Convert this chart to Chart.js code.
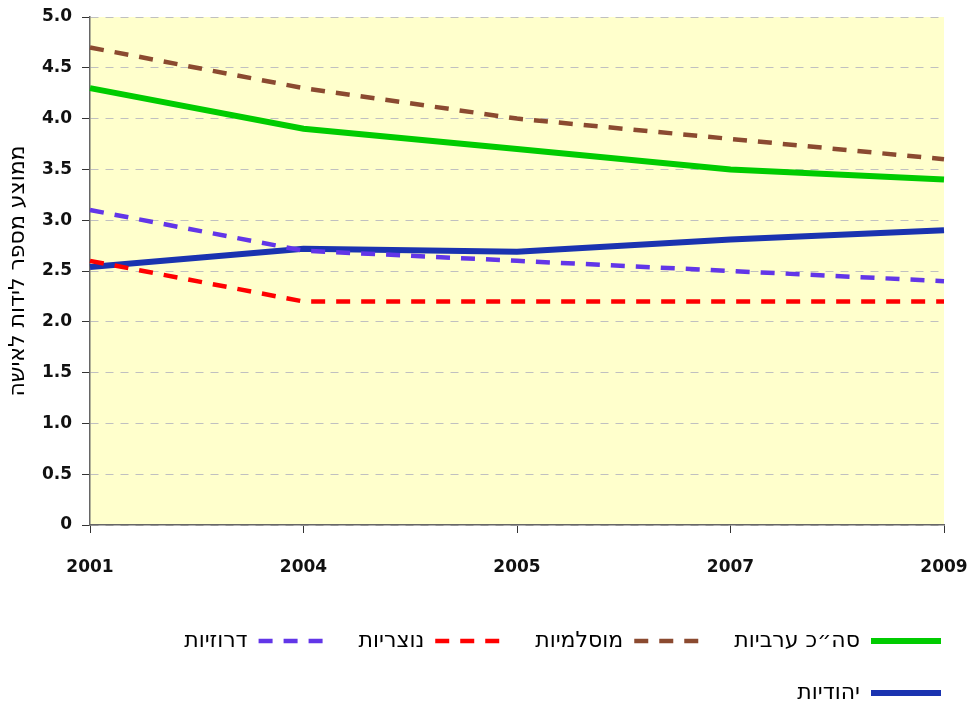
<!DOCTYPE html>
<html lang="he">
<head>
<meta charset="utf-8">
<script src="https://cdn.jsdelivr.net/npm/chart.js@4/dist/chart.umd.min.js"></script>
<style>
  body { margin: 0; background: #fff; }
  canvas { display: block; }
</style>
</head>
<body>
<canvas id="plot" width="980" height="706"></canvas>
<script>
// data
const years = ['2001', '2004', '2005', '2007', '2009']
const totalArab = [4.3, 3.9, 3.7, 3.5, 3.4]
const muslim = [4.7, 4.3, 4.0, 3.8, 3.6]
const christian = [2.6, 2.2, 2.2, 2.2, 2.2]
const druze = [3.1, 2.7, 2.6, 2.5, 2.4]
const jewish = [2.54, 2.72, 2.69, 2.81, 2.90]
const yTickLabels = ['0', '0.5', '1.0', '1.5', '2.0', '2.5', '3.0', '3.5', '4.0', '4.5', '5.0']

const fontFamily = '"DejaVu Sans", sans-serif'

// yellow plot background
const plotBackground = {
    id: 'plotBackground',
    beforeDraw(chart) {
        const { ctx, chartArea } = chart
        ctx.save()
        ctx.fillStyle = '#FFFFCC'
        ctx.fillRect(chartArea.left, chartArea.top, chartArea.right - chartArea.left, chartArea.bottom - chartArea.top)
        ctx.restore()
    }
}

function makeSet(label, data, color, width, dash) {
    return {
        label: label,
        data: data,
        borderColor: color,
        backgroundColor: color,
        borderWidth: width,
        borderDash: dash,
        pointRadius: 0,
        pointHoverRadius: 0,
        pointStyle: 'line',
        tension: 0,
        fill: false,
    }
}

const ctx = document.getElementById('plot').getContext('2d')
const chart = new Chart(ctx, {
    type: 'line',
    data: {
        labels: years,
        datasets: [
            makeSet('סה״כ ערביות', totalArab, '#00CC00', 6, []),
            makeSet('מוסלמיות', muslim, '#8B4A30', 4.5, [14, 11]),
            makeSet('נוצריות', christian, '#FF0000', 4.5, [14, 11]),
            makeSet('דרוזיות', druze, '#6236E8', 4.5, [14, 11]),
            makeSet('יהודיות', jewish, '#1A33B0', 6, []),
        ],
    },
    options: {
        responsive: false,
        animation: false,
        layout: { padding: { top: 0, right: 9, left: 0, bottom: -8 } },
        plugins: {
            tooltip: { enabled: false },
            legend: {
                position: 'bottom',
                align: 'start',
                rtl: true,
                textDirection: 'rtl',
                labels: {
                    usePointStyle: true,
                    pointStyleWidth: 70,
                    boxWidth: 70,
                    padding: 30,
                    color: '#000',
                    font: { family: fontFamily, size: 22 },
                    // point style labels lose the dataset dash, put it back
                    generateLabels: function (chart) {
                        const items = Chart.defaults.plugins.legend.labels.generateLabels(chart)
                        items.forEach(item => {
                            const ds = chart.data.datasets[item.datasetIndex]
                            item.lineDash = ds.borderDash
                            item.lineWidth = ds.borderWidth
                            item.strokeStyle = ds.borderColor
                            item.pointStyle = 'line'
                        })
                        return items
                    },
                },
            },
        },
        scales: {
            x: {
                type: 'category',
                offset: false,
                afterFit: s => { s.height = 75; s.paddingRight = 36 },
                grid: {
                    drawOnChartArea: false,
                    drawTicks: true,
                    tickLength: 8,
                    tickColor: '#333',
                },
                border: { color: '#666', width: 1.5 },
                ticks: {
                    padding: 24,
                    maxRotation: 0,
                    color: '#111',
                    font: { family: fontFamily, size: 17, weight: 'bold' },
                },
            },
            y: {
                min: 0,
                max: 5,
                afterFit: s => { s.width = 90; s.paddingTop = 17 },
                grid: {
                    color: '#C0C0C0',
                    tickLength: 8,
                    tickColor: '#333',
                    tickBorderDash: [],
                },
                border: { color: '#666', width: 1.5, dash: [8, 7] },
                ticks: {
                    stepSize: 0.5,
                    padding: 10,
                    color: '#111',
                    font: { family: fontFamily, size: 17, weight: 'bold' },
                    callback: (v, i) => yTickLabels[i],
                },
                title: {
                    display: true,
                    text: 'ממוצע מספר לידות לאישה',
                    color: '#000',
                    padding: { top: 5, bottom: 4 },
                    font: { family: fontFamily, size: 22 },
                },
            },
        },
    },
    plugins: [plotBackground],
})
</script>
</body>
</html>
